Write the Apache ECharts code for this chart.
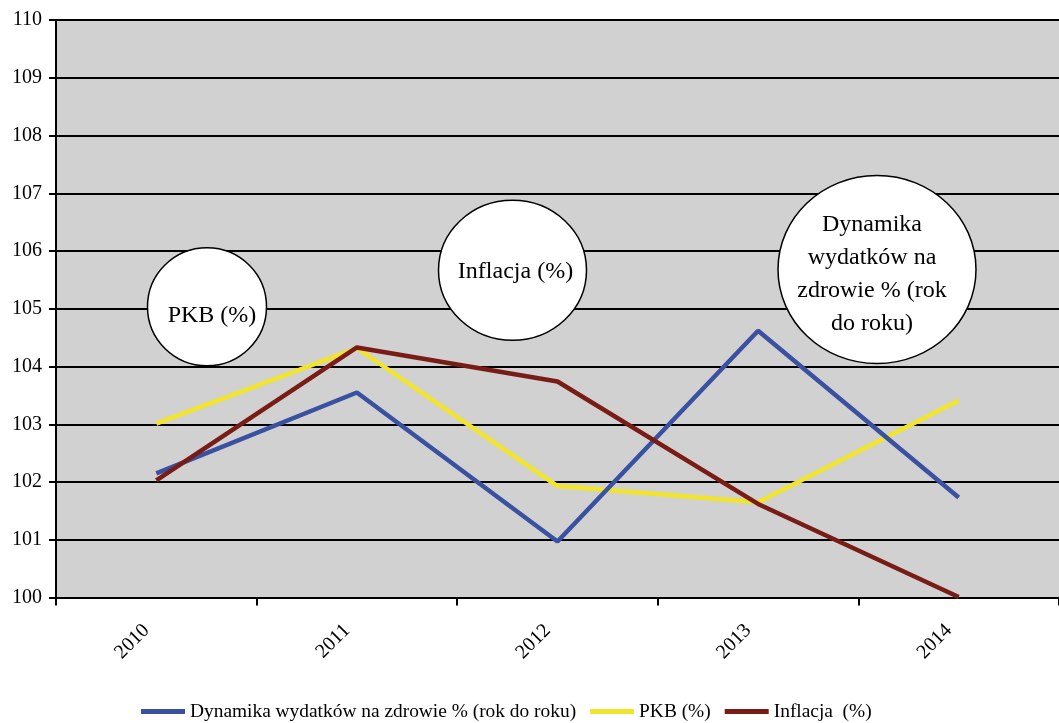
<!DOCTYPE html>
<html>
<head>
<meta charset="utf-8">
<script src="https://cdn.jsdelivr.net/npm/echarts@6/dist/echarts.min.js"></script>
<style>
html,body{margin:0;padding:0;background:#fff;}
#c{width:1059px;height:723px;}
</style>
</head>
<body>
<div id="c"></div>
<script>
const years = ['2010', '2011', '2012', '2013', '2014'];
const dynamika = [102.15, 103.55, 100.97, 104.62, 101.73];
const pkb = [103.01, 104.32, 101.93, 101.65, 103.41];
const inflacja = [102.03, 104.33, 103.74, 101.62, 100.01];
const seriesNames = ['Dynamika wydatków na zdrowie % (rok do roku)', 'PKB (%)', 'Inflacja  (%)'];
const yTicks = [100, 110, 1];

const FONT = "'Liberation Serif', 'Times New Roman', serif";
const colors = ['#3a51a1', '#f1e52b', '#7a1c16'];

const chart = echarts.init(document.getElementById('c'), null, {renderer: 'canvas'});

function bubble(cx, cy, rx, ry, tx, ty, text) {
  return [
    {type: 'ellipse', z: 100, shape: {cx: cx, cy: cy, rx: rx, ry: ry},
     style: {fill: '#ffffff', stroke: '#000000', lineWidth: 1.5}},
    {type: 'text', z: 101, x: tx, y: ty,
     style: {text: text, fill: '#000', font: '24px ' + FONT, align: 'center', verticalAlign: 'middle', lineHeight: 33}}
  ];
}

const option = {
  backgroundColor: '#ffffff',
  animation: false,
  textStyle: {fontFamily: FONT},
  grid: {left: 56, top: 20, width: 1013, height: 577.5, containLabel: false,
         show: true, backgroundColor: '#d1d1d1', borderWidth: 0},
  legend: {
    top: 697, left: 136,
    itemWidth: 44, itemHeight: 5, itemGap: 14,
    icon: 'rect',
    textStyle: {fontFamily: FONT, fontSize: 19.4, color: '#000'},
    data: seriesNames
  },
  xAxis: {
    type: 'category', data: years, boundaryGap: true,
    axisLine: {lineStyle: {color: '#000', width: 2}},
    axisTick: {show: true, length: 8, lineStyle: {color: '#000', width: 2}},
    axisLabel: {rotate: 45, fontSize: 20, color: '#000', fontFamily: FONT, margin: 20, padding: [0, 14, 0, 0]},
    splitLine: {show: false}
  },
  yAxis: {
    type: 'value', min: yTicks[0], max: yTicks[1], interval: yTicks[2],
    axisLine: {show: true, lineStyle: {color: '#000', width: 2}},
    axisTick: {show: true, length: 7, lineStyle: {color: '#000', width: 2}},
    axisLabel: {fontSize: 20, color: '#000', fontFamily: FONT, margin: 14},
    splitLine: {show: true, lineStyle: {color: '#000', width: 2}}
  },
  series: [
    {name: seriesNames[0], type: 'line', data: dynamika, symbol: 'none',
     lineStyle: {color: colors[0], width: 4.5}, itemStyle: {color: colors[0]}, z: 3},
    {name: seriesNames[1], type: 'line', data: pkb, symbol: 'none',
     lineStyle: {color: colors[1], width: 4.5}, itemStyle: {color: colors[1]}, z: 2},
    {name: seriesNames[2], type: 'line', data: inflacja, symbol: 'none',
     lineStyle: {color: colors[2], width: 4.5}, itemStyle: {color: colors[2]}, z: 4}
  ],
  graphic: [].concat(
    bubble(207, 306.7, 59.5, 59, 212, 316, 'PKB (%)'),
    bubble(512.5, 270.3, 74, 70, 515.5, 271.5, 'Inflacja (%)'),
    bubble(877, 269.5, 99, 94, 872, 274, 'Dynamika\nwydatków na\nzdrowie % (rok\ndo roku)')
  )
};
chart.setOption(option);
</script>
</body>
</html>
